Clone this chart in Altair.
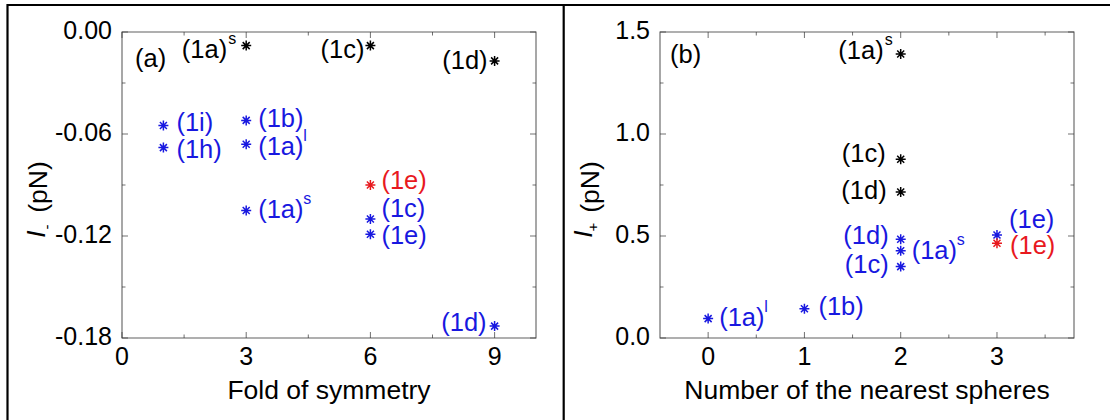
import altair as alt
import pandas as pd

FONT = "Liberation Sans"
COLOR_DOMAIN = ["black", "blue", "red"]
COLOR_RANGE = ["#000000", "#1818e0", "#e8191e"]
COLORS = dict(zip(COLOR_DOMAIN, COLOR_RANGE))

# ---------------- panel (a): fold of symmetry ----------------
A_labels = ["(1a)", "(1c)", "(1d)", "(1i)", "(1h)", "(1b)", "(1a)", "(1a)", "(1c)", "(1e)", "(1d)", "(1e)"]
A_sups = ["s", "", "", "", "", "", "l", "s", "", "", "", ""]
A_fold = [3, 6, 9, 1, 1, 3, 3, 3, 6, 6, 9, 6]
A_Iminus = [-0.008, -0.008, -0.017, -0.055, -0.068, -0.052, -0.066, -0.105, -0.110, -0.119, -0.173, -0.090]
A_groups = ["black", "black", "black", "blue", "blue", "blue", "blue", "blue", "blue", "blue", "blue", "red"]

A_xdomain = [0, 10]
A_ydomain = [-0.18, 0.0]
A_xticks = [0, 3, 6, 9]
A_xticklabels = ["0", "3", "6", "9"]
A_xminor = [1.5, 4.5, 7.5]
A_yticks = [0.0, -0.06, -0.12, -0.18]
A_yticklabels = ["0.00", "-0.06", "-0.12", "-0.18"]
A_yminor = [-0.03, -0.09, -0.15]

# ---------------- panel (b): number of nearest spheres ----------------
B_labels = ["(1a)", "(1c)", "(1d)", "(1a)", "(1b)", "(1d)", "(1a)", "(1c)", "(1e)", "(1e)"]
B_sups = ["s", "", "", "l", "", "", "s", "", "", ""]
B_nearest = [2, 2, 2, 0, 1, 2, 2, 2, 3, 3]
B_Iplus = [1.392, 0.876, 0.716, 0.095, 0.143, 0.484, 0.428, 0.350, 0.505, 0.464]
B_groups = ["black", "black", "black", "blue", "blue", "blue", "blue", "blue", "blue", "red"]

B_xdomain = [-0.5, 3.8]
B_ydomain = [0.0, 1.5]
B_xticks = [0, 1, 2, 3]
B_xticklabels = ["0", "1", "2", "3"]
B_xminor = [0.5, 1.5, 2.5, 3.5]
B_yticks = [0.0, 0.5, 1.0, 1.5]
B_yticklabels = ["0.0", "0.5", "1.0", "1.5"]
B_yminor = [0.25, 0.75, 1.25]

# ---------------- layout / style (pixels) ----------------
A_XRANGE = [122, 536]
B_XRANGE = [660, 1074]
Y_RANGE = [338, 32]
LABEL_SIZE = 25.5
SUP_SIZE = 16
TICK_SIZE = 25
TITLE_SIZE = 26.5
MAIN_W = 44  # approx. pixel width of "(1a)" at LABEL_SIZE
STAR = "M-1,0L1,0M0,-1L0,1M-0.7,-0.7L0.7,0.7M-0.7,0.7L0.7,-0.7"

A_STYLE = [("right", -19, 4), ("right", -6, 4), ("right", -7, 0), ("left", 13, -3),
           ("left", 13, 2), ("left", 12, -1), ("left", 12, 3), ("left", 12, -1),
           ("left", 11, -10), ("left", 11, 2), ("right", -8, -3), ("left", 11, -4)]
B_STYLE = [("right", -17, -3), ("right", -15, -5), ("right", -14, -1), ("left", 11, -1),
           ("left", 14, -2), ("right", -12, -3), ("left", 11, 0), ("right", -12, -2),
           ("left", 12, -15), ("left", 13, 3)]


def one(**kw):
    return pd.DataFrame({k: [v] for k, v in kw.items()})


def panel(labels, sups, xv, yv, groups, xdom, ydom, xrange_, xticks, xticklabels, xminor,
          yticks, yticklabels, yminor, styles, letter, letter_dx, letter_dy, xtitle):
    xs = alt.Scale(domain=xdom, range=xrange_, nice=False, zero=False)
    ys = alt.Scale(domain=ydom, range=Y_RANGE, nice=False, zero=False)

    def X(f):
        return alt.X(f, type="quantitative", scale=xs, axis=None)

    def Y(f):
        return alt.Y(f, type="quantitative", scale=ys, axis=None)

    df = pd.DataFrame({"x": xv, "y": yv, "g": groups, "label": labels, "sup": sups})
    layers = []

    # frame
    frame = alt.Chart(one(x0=xdom[0], x1=xdom[1], y0=ydom[0], y1=ydom[1])).mark_rect(
        fillOpacity=0, stroke="#606060", strokeWidth=1.1
    ).encode(x=X("x0"), x2="x1", y=Y("y0"), y2="y1")
    layers.append(frame)

    # inward ticks on all four sides
    for vals, L in ((xticks, 6), (xminor, 3.5)):
        d = pd.DataFrame({"v": vals, "lo": ydom[0], "hi": ydom[1]})
        layers.append(alt.Chart(d).mark_tick(orient="vertical", size=L, thickness=1, yOffset=-L / 2,
                                             color="#333333").encode(x=X("v"), y=Y("lo")))
        layers.append(alt.Chart(d).mark_tick(orient="vertical", size=L, thickness=1, yOffset=L / 2,
                                             color="#333333").encode(x=X("v"), y=Y("hi")))
    for vals, L in ((yticks, 6), (yminor, 3.5)):
        d = pd.DataFrame({"v": vals, "lo": xdom[0], "hi": xdom[1]})
        layers.append(alt.Chart(d).mark_tick(orient="horizontal", size=L, thickness=1, xOffset=L / 2,
                                             color="#333333").encode(x=X("lo"), y=Y("v")))
        layers.append(alt.Chart(d).mark_tick(orient="horizontal", size=L, thickness=1, xOffset=-L / 2,
                                             color="#333333").encode(x=X("hi"), y=Y("v")))

    # tick labels
    dxl = pd.DataFrame({"v": xticks, "t": xticklabels, "e": ydom[0]})
    layers.append(alt.Chart(dxl).mark_text(font=FONT, fontSize=TICK_SIZE, baseline="middle", align="center",
                                           dy=19, color="#000").encode(x=X("v"), y=Y("e"), text="t:N"))
    dyl = pd.DataFrame({"v": yticks, "t": yticklabels, "e": xdom[0]})
    layers.append(alt.Chart(dyl).mark_text(font=FONT, fontSize=TICK_SIZE, baseline="middle", align="right",
                                           dx=-10, dy=-1, color="#000").encode(x=X("e"), y=Y("v"), text="t:N"))

    # x title
    layers.append(alt.Chart(one(x=(xdom[0] + xdom[1]) / 2, y=ydom[0], t=xtitle)).mark_text(
        font=FONT, fontSize=TITLE_SIZE, baseline="middle", align="center", dy=53, color="#000"
    ).encode(x=X("x"), y=Y("y"), text="t:N"))

    # panel letter
    layers.append(alt.Chart(one(x=xdom[0], y=ydom[1], t=letter)).mark_text(
        font=FONT, fontSize=LABEL_SIZE, baseline="middle", align="left", dx=letter_dx, dy=letter_dy,
        color="#000").encode(x=X("x"), y=Y("y"), text="t:N"))

    # points
    layers.append(alt.Chart(df).mark_point(shape=STAR, filled=False, size=100, strokeWidth=1.5, opacity=1).encode(
        x=X("x"), y=Y("y"),
        color=alt.Color("g:N", scale=alt.Scale(domain=COLOR_DOMAIN, range=COLOR_RANGE), legend=None)))

    # point labels (+ superscripts)
    for i, (al, dx, dy) in enumerate(styles):
        row = df.iloc[[i]]
        col = COLORS[groups[i]]
        layers.append(alt.Chart(row).mark_text(font=FONT, fontSize=LABEL_SIZE, align=al, baseline="middle",
                                               dx=dx, dy=dy, color=col).encode(x=X("x"), y=Y("y"), text="label:N"))
        if sups[i]:
            if al == "left":
                sdx, sal = dx + MAIN_W + 1, "left"
            else:
                sdx, sal = dx + 9, "right"
            layers.append(alt.Chart(row).mark_text(font=FONT, fontSize=SUP_SIZE, align=sal, baseline="middle",
                                                   dx=sdx, dy=dy - 11, color=col).encode(
                x=X("x"), y=Y("y"), text="sup:N"))
    return alt.layer(*layers)


panelA = panel(A_labels, A_sups, A_fold, A_Iminus, A_groups, A_xdomain, A_ydomain, A_XRANGE,
               A_xticks, A_xticklabels, A_xminor, A_yticks, A_yticklabels, A_yminor, A_STYLE,
               "(a)", 13, 27, "Fold of symmetry")
panelB = panel(B_labels, B_sups, B_nearest, B_Iplus, B_groups, B_xdomain, B_ydomain, B_XRANGE,
               B_xticks, B_xticklabels, B_xminor, B_yticks, B_yticklabels, B_yminor, B_STYLE,
               "(b)", 10, 23, "Number of the nearest spheres")

# y-axis titles: italic I with subscript, then (pN)
base = alt.Chart(one(d=0))


def ytitle(x_pn, y_pn, x_i, y_i, x_sub, y_sub, sub):
    return [
        base.mark_text(text="(pN)", font=FONT, fontSize=TITLE_SIZE, angle=270, align="center",
                       baseline="middle", color="#000").encode(x=alt.value(x_pn), y=alt.value(y_pn)),
        base.mark_text(text="I", font=FONT, fontSize=TITLE_SIZE, fontStyle="italic", angle=270,
                       align="center", baseline="middle", color="#000").encode(x=alt.value(x_i), y=alt.value(y_i)),
        base.mark_text(text=sub, font=FONT, fontSize=15, angle=270, align="center",
                       baseline="middle", color="#000").encode(x=alt.value(x_sub), y=alt.value(y_sub)),
    ]


titles = ytitle(39, 187, 37, 234, 47, 227, "-") + ytitle(591, 187, 584, 234, 593, 227, "+")

# figure border lines
borders = [
    base.mark_rule(color="#000", strokeWidth=2.2).encode(x=alt.value(7), x2=alt.value(1110), y=alt.value(5)),
    base.mark_rule(color="#000", strokeWidth=2.2).encode(x=alt.value(7.5), y=alt.value(4), y2=alt.value(420)),
    base.mark_rule(color="#000", strokeWidth=2.2).encode(x=alt.value(563.7), y=alt.value(4), y2=alt.value(420)),
]

chart = alt.layer(panelA, panelB, *titles, *borders).resolve_scale(
    x="independent", y="independent"
).properties(
    width=1110, height=420, padding=0, autosize=alt.AutoSizeParams(type="none"), background="white"
).configure_view(stroke=None)

chart.save("out.html", embed_options={"renderer": "svg", "actions": False})
